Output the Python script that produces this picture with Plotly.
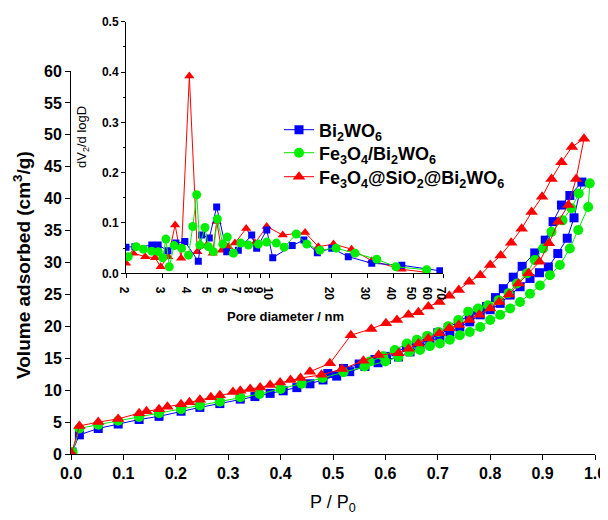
import plotly.graph_objects as go

# ---------------- main isotherm data (P/P0, volume adsorbed) ----------------
bi_p = [0.002, 0.016, 0.052, 0.090, 0.130, 0.168, 0.210, 0.246, 0.284, 0.323, 0.351, 0.380,
        0.405, 0.431, 0.456, 0.481, 0.507, 0.532, 0.561, 0.586, 0.602, 0.625, 0.647, 0.666,
        0.685, 0.704, 0.723, 0.742, 0.761, 0.781, 0.800, 0.819, 0.838, 0.857, 0.876, 0.894,
        0.911, 0.929, 0.947, 0.960, 0.975,
        0.952, 0.936, 0.920, 0.905, 0.885, 0.861, 0.844, 0.825, 0.810, 0.793, 0.777, 0.760,
        0.740, 0.720, 0.700, 0.680, 0.660, 0.640, 0.620, 0.600, 0.580, 0.550, 0.520, 0.490]
bi_v = [0.3, 3.0, 4.0, 4.7, 5.4, 5.9, 6.7, 7.3, 7.9, 8.6, 9.0, 9.5,
        9.9, 10.4, 11.0, 11.6, 12.2, 12.9, 13.7, 14.3, 14.8, 15.2, 16.0, 16.8,
        17.6, 18.4, 19.1, 19.9, 20.7, 21.8, 22.6, 23.6, 24.9, 26.2, 27.5, 28.4,
        29.3, 31.4, 33.8, 37.0, 42.6,
        40.5, 39.0, 36.4, 33.5, 31.5, 29.4, 27.7, 25.9, 24.5, 23.1, 22.5, 21.7,
        20.7, 19.8, 19.0, 18.2, 17.4, 16.7, 16.0, 15.3, 14.8, 14.1, 13.4, 12.6]

fe_p = [0.003, 0.016, 0.052, 0.090, 0.130, 0.168, 0.210, 0.246, 0.284, 0.323, 0.360, 0.400,
        0.440, 0.480, 0.520, 0.560, 0.600, 0.625, 0.646, 0.666, 0.685, 0.704, 0.723, 0.742,
        0.761, 0.781, 0.800, 0.819, 0.838, 0.857, 0.876, 0.895, 0.914, 0.933, 0.952, 0.968,
        0.987, 0.990,
        0.969, 0.955, 0.938, 0.917, 0.901, 0.885, 0.870, 0.851, 0.835, 0.816, 0.796, 0.777,
        0.758, 0.739, 0.720, 0.701, 0.680, 0.660, 0.641, 0.618, 0.596, 0.570]
fe_v = [0.3, 4.0, 4.6, 5.2, 5.8, 6.4, 7.0, 7.6, 8.2, 8.9, 9.4, 10.2,
        11.0, 11.9, 12.8, 13.7, 14.5, 15.2, 16.0, 16.3, 16.9, 17.3, 17.9, 18.6,
        19.1, 19.9, 21.0, 21.8, 22.8, 23.8, 25.1, 26.4, 28.0, 29.6, 32.2, 35.1,
        38.7, 42.4,
        40.8, 38.5, 36.6, 34.8, 32.2, 30.4, 28.3, 26.7, 25.2, 24.1, 23.3, 22.8,
        22.3, 21.0, 20.0, 19.1, 18.5, 17.9, 17.3, 16.3, 15.3, 14.5]

si_p = [0.001, 0.016, 0.052, 0.090, 0.130, 0.144, 0.168, 0.184, 0.210, 0.226, 0.246, 0.267,
        0.284, 0.309, 0.323, 0.342, 0.361, 0.380, 0.399, 0.419, 0.438, 0.478, 0.517, 0.558,
        0.587, 0.625, 0.644, 0.663, 0.682, 0.703, 0.722, 0.740, 0.760, 0.779, 0.800, 0.817,
        0.836, 0.854, 0.873, 0.894, 0.912, 0.930, 0.949, 0.964, 0.979,
        0.956, 0.936, 0.917, 0.899, 0.879, 0.860, 0.840, 0.820, 0.800, 0.781, 0.760, 0.740,
        0.722, 0.703, 0.682, 0.663, 0.644, 0.622, 0.601, 0.573, 0.534, 0.494, 0.456]
si_v = [0.1, 4.4, 5.0, 5.5, 6.4, 6.7, 7.0, 7.4, 7.8, 8.1, 8.5, 8.9,
        9.2, 9.7, 9.9, 10.2, 10.4, 10.8, 11.2, 11.6, 11.9, 12.4, 13.3, 14.6,
        15.5, 15.8, 16.5, 17.3, 18.1, 18.9, 19.7, 20.2, 21.0, 21.8, 22.8, 23.8,
        25.0, 26.7, 28.3, 30.1, 33.0, 36.4, 39.0, 43.1, 49.4,
        48.1, 45.7, 43.1, 40.3, 37.9, 35.3, 33.1, 31.1, 29.6, 28.0, 27.0, 25.7,
        24.8, 23.8, 23.1, 22.2, 21.8, 21.0, 20.5, 19.6, 18.6, 14.2, 12.9]

# ---------------- inset pore size distribution (diameter nm, dV/dlogD) ----------------
bi_d = [2.0, 2.21, 2.67, 2.87, 3.2, 3.5, 3.87, 4.5, 4.67, 5.09, 5.53, 6.19, 7.05, 8.19, 8.66,
        9.7, 10.37, 12.9, 14.7, 17.1, 20.1, 24.2, 31.5, 44.1, 67.6]
bi_s = [0.052, 0.053, 0.056, 0.056, 0.045, 0.060, 0.063, 0.024, 0.076, 0.070, 0.132, 0.043,
        0.046, 0.076, 0.050, 0.086, 0.031, 0.055, 0.066, 0.041, 0.050, 0.033, 0.020, 0.016, 0.005]

fe_d = [2.05, 2.24, 2.43, 2.67, 2.87, 3.02, 3.13, 3.25, 3.43, 3.73, 4.03, 4.23, 4.42, 4.58,
        4.85, 5.04, 5.33, 5.57, 5.92, 6.23, 6.67, 7.25, 7.9, 8.83, 9.69, 10.8, 11.8, 13.5,
        15.2, 17.6, 21.1, 26.1, 33.3, 41.3, 58.3]
fe_s = [0.033, 0.053, 0.048, 0.044, 0.043, 0.031, 0.068, 0.013, 0.055, 0.050, 0.036, 0.093,
        0.156, 0.056, 0.091, 0.053, 0.043, 0.108, 0.058, 0.072, 0.040, 0.060, 0.056, 0.058,
        0.062, 0.060, 0.052, 0.078, 0.058, 0.046, 0.050, 0.040, 0.028, 0.013, 0.007]

si_d = [2.0, 2.17, 2.48, 2.77, 2.95, 3.21, 3.47, 3.71, 4.07, 4.45, 4.95, 5.29, 5.53, 5.85,
        6.3, 6.79, 7.7, 8.5, 9.69, 11.6, 14.9, 17.3, 20.5, 25.1, 31.5, 44.0, 58.0]
si_s = [0.020, 0.040, 0.033, 0.031, 0.013, 0.033, 0.096, 0.030, 0.392, 0.043, 0.056, 0.040,
        0.103, 0.046, 0.053, 0.060, 0.089, 0.060, 0.093, 0.076, 0.081, 0.053, 0.058, 0.048,
        0.025, 0.008, 0.002]

inset_ticks = [2, 3, 4, 5, 6, 7, 8, 9, 10, 20, 30, 40, 50, 60, 70]

names = ["Bi<sub>2</sub>WO<sub>6</sub>",
         "Fe<sub>3</sub>O<sub>4</sub>/Bi<sub>2</sub>WO<sub>6</sub>",
         "Fe<sub>3</sub>O<sub>4</sub>@SiO<sub>2</sub>@Bi<sub>2</sub>WO<sub>6</sub>"]
colors = ["#0000ff", "#00ee00", "#ff0000"]
symbols = ["square", "circle", "triangle-up"]

FONT = "Liberation Sans, Arial, sans-serif"
OFF = 8                     # page body margin of the html page
W, H = 608 - OFF, 520 - OFF


def fx(px):
    return (px - OFF) / W


def fy(py):
    return (H - (py - OFF)) / H


fig = go.Figure()

legends = ["legend", "legend2", "legend3"]
main = [(bi_p, bi_v, 9), (fe_p, fe_v, 10), (si_p, si_v, 11)]
for (px, py, ms), nm, c, s, lg in zip(main, names, colors, symbols, legends):
    fig.add_trace(go.Scatter(x=px, y=py, mode="lines+markers", name=nm, legend=lg,
                             line=dict(color=c, width=1),
                             marker=dict(symbol=s, size=ms, color=c),
                             xaxis="x", yaxis="y"))

inset = [(si_d, si_s, 2, 9), (bi_d, bi_s, 0, 7), (fe_d, fe_s, 1, 9)]
for dx, dy, i, ms in inset:
    fig.add_trace(go.Scatter(x=dx, y=dy, mode="lines+markers", showlegend=False,
                             line=dict(color=colors[i], width=1),
                             marker=dict(symbol=symbols[i], size=ms, color=colors[i]),
                             xaxis="x2", yaxis="y2"))

ax_common = dict(showline=True, linecolor="black", linewidth=1, ticks="outside",
                 tickcolor="black", showgrid=False, zeroline=False, mirror=False,
                 automargin=False)

leg_common = dict(xanchor="left", yanchor="middle", bgcolor="rgba(0,0,0,0)",
                  font=dict(size=18, weight="bold", family=FONT), itemsizing="trace")

fig.update_layout(
    width=W, height=H, margin=dict(l=0, r=0, t=0, b=0, autoexpand=False),
    paper_bgcolor="white", plot_bgcolor="rgba(0,0,0,0)",
    font=dict(family=FONT, color="black"),
    xaxis=dict(**ax_common, domain=[fx(71), fx(595)], range=[0, 1], dtick=0.1,
               tickformat=".1f", ticklen=5,
               tickfont=dict(size=16, weight="bold")),
    yaxis=dict(**ax_common, domain=[fy(454), fy(71)], range=[0, 60], dtick=5,
               ticklen=5, tickfont=dict(size=16, weight="bold")),
    xaxis2=dict(**ax_common, type="log", anchor="y2",
                domain=[fx(126), fx(443)], range=[0.30103, 1.845098],
                tickvals=inset_ticks, ticktext=[str(t) for t in inset_ticks], ticklen=4,
                tickfont=dict(size=12, weight="bold")),
    yaxis2=dict(**ax_common, anchor="x2",
                domain=[fy(273.3), fy(21.7)], range=[0, 0.5], dtick=0.1,
                tickformat=".1f", ticklen=4,
                minor=dict(ticks="outside", dtick=0.05, ticklen=2, tickcolor="black"),
                tickfont=dict(size=12, weight="bold")),
    legend=dict(**leg_common, x=fx(279), y=fy(130)),
    legend2=dict(**leg_common, x=fx(279), y=fy(153)),
    legend3=dict(**leg_common, x=fx(279), y=fy(177)),
    annotations=[
        dict(text="Volume adsorbed (cm<sup>3</sup>/g)", textangle=-90, showarrow=False,
             xref="paper", yref="paper", x=fx(22), y=fy(265),
             xanchor="center", yanchor="middle",
             font=dict(size=19, weight="bold")),
        dict(text="P / P<sub>0</sub>", showarrow=False, xref="paper", yref="paper",
             x=fx(333), y=fy(503), xanchor="center", yanchor="middle",
             font=dict(size=18)),
        dict(text="Pore diameter / nm", showarrow=False, xref="paper", yref="paper",
             x=fx(285), y=fy(316), xanchor="center", yanchor="middle",
             font=dict(size=13, weight="bold")),
        dict(text="dV<sub>2</sub>/d logD", textangle=-90, showarrow=False,
             xref="paper", yref="paper", x=fx(82), y=fy(137),
             xanchor="center", yanchor="middle",
             font=dict(size=13)),
    ],
)

fig.write_html("out.html")
